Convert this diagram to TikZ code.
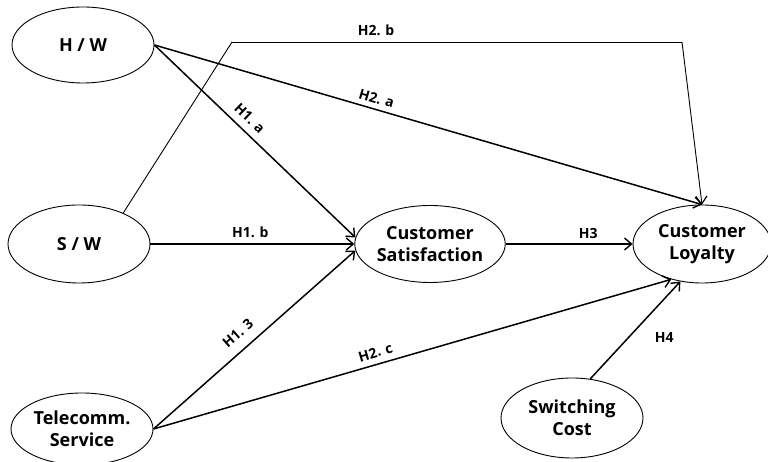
\documentclass[tikz,border=0pt]{standalone}
\usepackage{fontspec}
\setmainfont{Open Sans}
\usetikzlibrary{shapes.geometric,arrows.meta}
\tikzset{
  var/.style={ellipse, draw, line width=0.9pt, align=center,
    font=\fontsize{18}{22.5}\selectfont\bfseries, inner sep=0pt},
  path/.style={line width=1.5pt, -{Straight Barb[length=7pt,width=12pt,line width=1.4pt]}},
  thinpath/.style={line width=0.9pt, -{Straight Barb[length=7pt,width=12pt,line width=1.2pt]}},
  lbl/.style={font=\fontsize{14}{16}\selectfont\bfseries, inner sep=2pt}
}
\begin{document}
\begin{tikzpicture}[x=1pt,y=1pt]
\useasboundingbox (0,0) rectangle (768,462);
\node[var, minimum width=142pt, minimum height=76pt] (hw) at (83,417) {H / W};
\node[var, minimum width=142pt, minimum height=78pt] (sw) at (79,218) {S / W};
\node[var, minimum width=142pt, minimum height=72pt] (tel) at (82,33) {Telecomm.\\Service};
\node[var, minimum width=144pt, minimum height=77pt] (cs) at (430,218) {Customer\\Satisfaction};
\node[var, minimum width=138pt, minimum height=78pt] (cl) at (702,218) {Customer\\Loyalty};
\node[var, minimum width=142pt, minimum height=80pt] (sc) at (572,44) {Switching\\Cost};
\coordinate (b1) at (232,420);
\coordinate (b2) at (682,420);
% H2.b
\draw[line width=0.9pt] (sw.35) -- (b1);
\draw[line width=0.9pt] (b1) -- node[lbl, pos=0.32, above=4pt] {H2. b} (b2);
\draw[thinpath] (b2) -- (cl.north);
% H2.a
\draw[path] (hw.east) -- node[lbl, pos=0.40, sloped, above=3pt] {H2. a} (cl.north);
% H1.a
\draw[path] (hw.east) -- node[lbl, pos=0.43, sloped, above=5pt] {H1. a} (cs.175);
% H1.b
\draw[path] (sw.east) -- node[lbl, pos=0.49, above=4pt] {H1. b} (cs.west);
% H1.3
\draw[path] (tel.east) -- node[lbl, pos=0.47, sloped, above=8pt] {H1. 3} (cs.185);
% H2.c
\draw[path] (tel.east) -- node[lbl, pos=0.435, sloped, above=4pt] {H2. c} (cl.229);
% H3
\draw[path] (cs.east) -- node[lbl, pos=0.65, above=3pt] {H3} (cl.west);
% H4
\draw[path] (sc.65) -- node[lbl, pos=0.42, right=24pt] {H4} (cl.240);
\end{tikzpicture}
\end{document}
